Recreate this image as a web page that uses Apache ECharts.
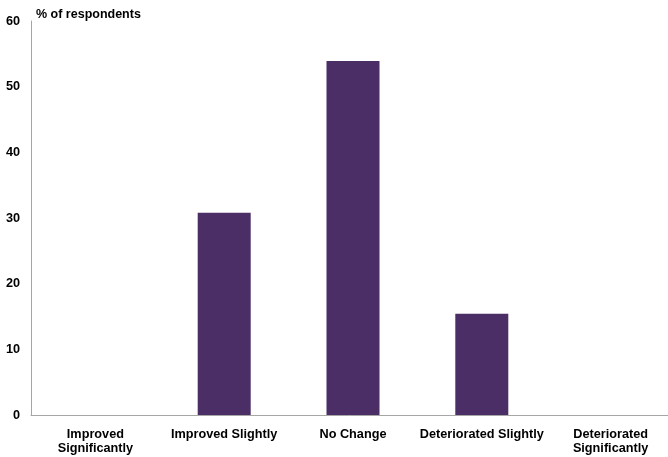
<!DOCTYPE html>
<html>
<head>
<meta charset="utf-8">
<script src="https://cdn.jsdelivr.net/npm/echarts@6/dist/echarts.min.js"></script>
<style>
  html, body { margin: 0; padding: 0; background: #fff; }
  #chart { width: 668px; height: 457px; }
</style>
</head>
<body>
<div id="chart"></div>
<script>
// Survey responses: change in conditions
const categories = [
  'Improved\nSignificantly',
  'Improved Slightly',
  'No Change',
  'Deteriorated Slightly',
  'Deteriorated\nSignificantly'
];
const respondentShare = [0, 30.8, 53.9, 15.4, 0];
const yTicks = { min: 0, max: 60, interval: 10 };

const font = 'Liberation Sans, Arial, sans-serif';
const chart = echarts.init(document.getElementById('chart'), null, { renderer: 'canvas' });

chart.setOption({
  animation: false,
  title: {
    text: '% of respondents',
    left: 36,
    top: 8,
    padding: 0,
    textStyle: { fontFamily: font, fontSize: 12.5, fontWeight: 'bold', color: '#000' }
  },
  // plot area runs slightly past the right edge of the canvas
  grid: {
    left: 31, right: -7, top: 21, bottom: 42,
    containLabel: false,
    outerBoundsMode: 'none'
  },
  xAxis: {
    type: 'category',
    data: categories,
    axisLine: { show: true, lineStyle: { color: '#A6A6A6', width: 1 } },
    axisTick: { show: false },
    axisLabel: {
      interval: 0,
      margin: 12,
      fontFamily: font,
      fontSize: 12.7,
      fontWeight: 'bold',
      color: '#000',
      lineHeight: 14
    }
  },
  yAxis: {
    type: 'value',
    min: yTicks.min,
    max: yTicks.max,
    interval: yTicks.interval,
    axisLine: { show: true, lineStyle: { color: '#A6A6A6', width: 1 } },
    axisTick: { show: false },
    splitLine: { show: false },
    axisLabel: {
      margin: 11,
      fontFamily: font,
      fontSize: 12.7,
      fontWeight: 'bold',
      color: '#000'
    }
  },
  series: [{
    type: 'bar',
    data: respondentShare,
    barWidth: 53,
    itemStyle: { color: '#4B2E66' }
  }]
});
</script>
</body>
</html>
